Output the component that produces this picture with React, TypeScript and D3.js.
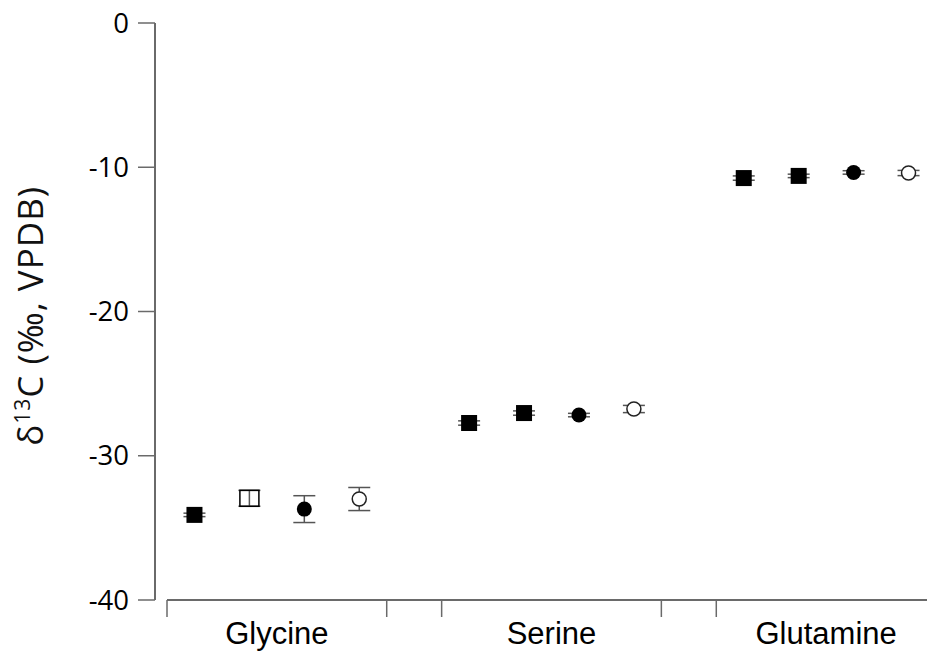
import React from "react";
import * as d3 from "d3";

const categories = ["Glycine", "Serine", "Glutamine"];
const seriesNames = ["Series 1", "Series 2", "Series 3", "Series 4"];
// mean values per category (rows) per series (columns)
const glycineValues = [-34.1, -32.95, -33.7, -33.0];
const serineValues = [-27.73, -27.04, -27.18, -26.76];
const glutamineValues = [-10.75, -10.6, -10.36, -10.4];
const glycineErrors = [0.12, 0.55, 0.93, 0.8];
const serineErrors = [0.15, 0.15, 0.12, 0.25];
const glutamineErrors = [0.15, 0.12, 0.12, 0.18];
const glycineMarkers = ["square", "openSquare", "circle", "openCircle"];
const serineMarkers = ["square", "square", "circle", "openCircle"];
const glutamineMarkers = ["square", "square", "circle", "openCircle"];
const yTicks = [0, -10, -20, -30, -40];

const valuesByCat = [glycineValues, serineValues, glutamineValues];
const errorsByCat = [glycineErrors, serineErrors, glutamineErrors];
const markersByCat = [glycineMarkers, serineMarkers, glutamineMarkers];

const W = 927;
const H = 652;

export default function App() {
  const y = d3.scaleLinear().domain([-40, 0]).range([600, 23]);
  const x = d3
    .scaleBand<string>()
    .domain(categories)
    .range([167, 936])
    .paddingInner(0.2)
    .paddingOuter(0);
  const inner = d3
    .scaleBand<string>()
    .domain(seriesNames)
    .range([0, x.bandwidth()])
    .padding(0);

  const axisColor = "#6a6a6a";
  const errColor = "#555";
  const capW = 11;

  const edges: number[] = [];
  categories.forEach((c) => {
    edges.push(x(c)!);
    edges.push(x(c)! + x.bandwidth());
  });

  return (
    <svg
      width={W}
      height={H}
      style={{ position: "absolute", left: 0, top: 0, background: "#fff" }}
    >
      {/* Y axis */}
      <line x1={155} x2={155} y1={y(0)} y2={y(-40)} stroke={axisColor} strokeWidth={2} />
      {yTicks.map((t) => (
        <g key={t}>
          <line x1={138} x2={155} y1={y(t)} y2={y(t)} stroke={axisColor} strokeWidth={1.5} />
          <text
            x={129}
            y={y(t)}
            dy="0.35em"
            textAnchor="end"
            fontFamily="'Open Sans', sans-serif"
            fontSize={27.5}
            fill="#000"
          >
            {t === 0 ? "0" : "-" + Math.abs(t)}
          </text>
        </g>
      ))}
      <text
        transform={`translate(43, ${y(-20.3)}) rotate(-90)`}
        textAnchor="middle"
        fontFamily="'Open Sans', sans-serif"
        fontSize={35}
        letterSpacing={1}
        fill="#111"
      >
        δ<tspan fontSize={21} dy={-13}>13</tspan>
        <tspan dy={13}>C (‰, VPDB)</tspan>
      </text>

      {/* X axis */}
      <line x1={167} x2={936} y1={600} y2={600} stroke={axisColor} strokeWidth={2} />
      {edges.map((e, i) => (
        <line key={i} x1={e} x2={e} y1={600} y2={617} stroke={axisColor} strokeWidth={1.5} />
      ))}
      {categories.map((c) => (
        <text
          key={c}
          x={x(c)! + x.bandwidth() / 2}
          y={644}
          textAnchor="middle"
          fontFamily="'Liberation Sans', Arial, sans-serif"
          fontSize={31}
          fill="#000"
        >
          {c}
        </text>
      ))}

      {/* Points */}
      {categories.map((c, ci) =>
        seriesNames.map((s, si) => {
          const cx = x(c)! + inner(s)! + inner.bandwidth() / 2;
          const v = valuesByCat[ci][si];
          const e = errorsByCat[ci][si];
          const m = markersByCat[ci][si];
          const cy = y(v);
          const top = y(v + e);
          const bot = y(v - e);
          return (
            <g key={c + s}>
              <line x1={cx} x2={cx} y1={top} y2={bot} stroke={errColor} strokeWidth={1.5} />
              <line x1={cx - capW} x2={cx + capW} y1={top} y2={top} stroke={errColor} strokeWidth={1.5} />
              <line x1={cx - capW} x2={cx + capW} y1={bot} y2={bot} stroke={errColor} strokeWidth={1.5} />
              {m === "square" && (
                <rect x={cx - 8} y={cy - 8} width={16} height={16} fill="#000" />
              )}
              {m === "openSquare" && (
                <rect
                  x={cx - 9.5}
                  y={cy - 8}
                  width={19}
                  height={16}
                  fill="none"
                  stroke="#000"
                  strokeWidth={1.5}
                />
              )}
              {m === "circle" && <circle cx={cx} cy={cy} r={7.5} fill="#000" />}
              {m === "openCircle" && (
                <circle cx={cx} cy={cy} r={7} fill="#fff" stroke="#222" strokeWidth={1.5} />
              )}
            </g>
          );
        })
      )}
    </svg>
  );
}
